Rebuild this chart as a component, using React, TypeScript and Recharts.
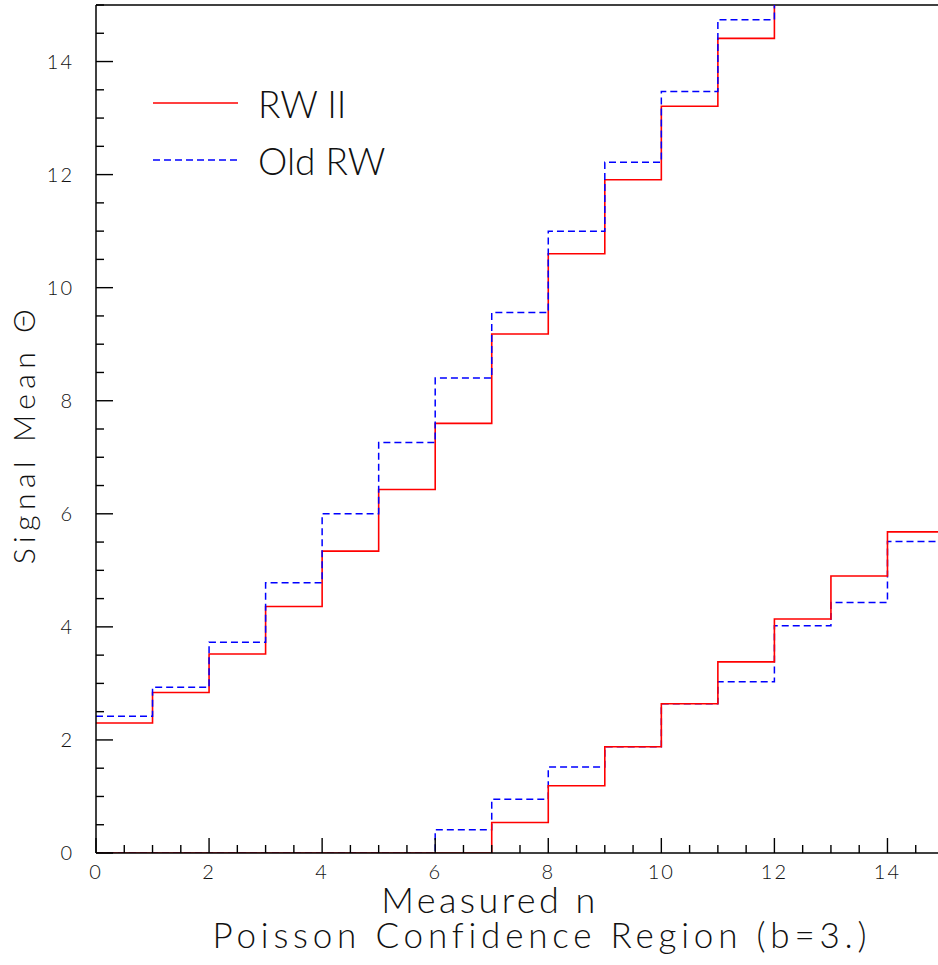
import { LineChart, Line, XAxis, YAxis, ReferenceLine, Legend } from 'recharts';

// measured n bins (each bin spans [n, n+1])
const BINS = [0, 1, 2, 3, 4, 5, 6, 7, 8, 9, 10, 11, 12, 13, 14];

// upper / lower edges of the confidence belt, b = 3
const RW2_UPPER = [2.3, 2.84, 3.52, 4.36, 5.34, 6.43, 7.6, 9.18, 10.6, 11.91, 13.21, 14.41, 15.6, 16.8, 18.0];
const OLD_UPPER = [2.42, 2.93, 3.73, 4.78, 6.0, 7.26, 8.4, 9.56, 11.0, 12.22, 13.47, 14.74, 15.9, 17.1, 18.3];
const RW2_LOWER = [0, 0, 0, 0, 0, 0, 0, 0.54, 1.19, 1.88, 2.64, 3.38, 4.14, 4.9, 5.68];
const OLD_LOWER = [0, 0, 0, 0, 0, 0, 0.41, 0.95, 1.52, 1.88, 2.64, 3.03, 4.02, 4.43, 5.51];

const TICKS = [0, 0.5, 1, 1.5, 2, 2.5, 3, 3.5, 4, 4.5, 5, 5.5, 6, 6.5, 7, 7.5, 8, 8.5, 9, 9.5, 10, 10.5, 11, 11.5, 12, 12.5, 13, 13.5, 14, 14.5, 15];
const MAJOR = [0, 2, 4, 6, 8, 10, 12, 14];

const LEGEND = [
  { label: 'RW II', color: '#ff0000', dash: undefined },
  { label: 'Old RW', color: '#0000ff', dash: '7 4' }
];

const FONT = 'Lato, "DejaVu Sans", sans-serif';
const RED = '#ff0000';
const BLUE = '#0000ff';

// stepAfter needs a closing point at the right edge of the last bin
const last = BINS.length - 1;
const data = [...BINS, BINS[last] + 1].map((n, i) => {
  const k = Math.min(i, last);
  return {
    n,
    rwUp: RW2_UPPER[k],
    oldUp: OLD_UPPER[k],
    rwLo: RW2_LOWER[k],
    oldLo: OLD_LOWER[k]
  };
});

function XTick({ x, y, payload }: any) {
  const major = MAJOR.includes(payload.value);
  return (
    <g>
      <line x1={x} x2={x} y1={y} y2={y - (major ? 15 : 8)} stroke="#000" strokeWidth={1.4} />
      {major && (
        <text x={x} y={y + 26} textAnchor="middle" fontFamily={FONT} fontWeight={300} fontSize={20} letterSpacing={2} fill="#111">
          {payload.value}
        </text>
      )}
    </g>
  );
}

function YTick({ x, y, payload }: any) {
  const major = MAJOR.includes(payload.value);
  return (
    <g>
      <line x1={x} x2={x + (major ? 17 : 8)} y1={y} y2={y} stroke="#000" strokeWidth={1.4} />
      {major && (
        <text x={x - 22} y={y + 7} textAnchor="end" fontFamily={FONT} fontWeight={300} fontSize={20} letterSpacing={2} fill="#111">
          {payload.value}
        </text>
      )}
    </g>
  );
}

function XTitle() {
  return (
    <g fontFamily={FONT} fontWeight={300} fill="#111">
      <text x={490} y={913} textAnchor="middle" fontSize={36} letterSpacing={3.4}>
        Measured n
      </text>
      <text x={542} y={948} textAnchor="middle" fontSize={35} letterSpacing={4.8}>
        Poisson Confidence Region (b=3.)
      </text>
    </g>
  );
}

function YTitle() {
  return (
    <text
      x={35}
      y={434}
      transform="rotate(-90, 35, 434)"
      textAnchor="middle"
      fontFamily={FONT}
      fontWeight={300}
      fontSize={30}
      letterSpacing={5.5}
      fill="#111"
    >
      Signal Mean Θ
    </text>
  );
}

function LegendBox() {
  return (
    <svg width={260} height={110}>
      {LEGEND.map((item, i) => (
        <g key={item.label}>
          <line x1={3} x2={88} y1={23 + i * 57} y2={23 + i * 57} stroke={item.color} strokeWidth={1.6} strokeDasharray={item.dash} />
          <text x={108} y={38 + i * 57} fontFamily={FONT} fontWeight={300} fontSize={37} fill="#111">
            {item.label}
          </text>
        </g>
      ))}
    </svg>
  );
}

export default function App() {
  return (
    <div style={{ position: 'fixed', left: 0, top: 0, width: 938, height: 965, overflow: 'hidden', background: '#fff' }}>
      <LineChart width={944} height={965} data={data} margin={{ top: 5, right: 0, bottom: 0, left: 0 }}>
        <XAxis
          dataKey="n"
          type="number"
          domain={[0, 15]}
          ticks={TICKS}
          interval={0}
          allowDataOverflow
          tickSize={0}
          tickMargin={0}
          tickLine={false}
          tick={<XTick />}
          axisLine={{ stroke: '#000', strokeWidth: 1.5 }}
          height={112}
          label={<XTitle />}
        />
        <YAxis
          type="number"
          domain={[0, 15]}
          ticks={TICKS}
          interval={0}
          allowDataOverflow
          tickSize={0}
          tickMargin={0}
          tickLine={false}
          tick={<YTick />}
          axisLine={{ stroke: '#000', strokeWidth: 1.5 }}
          width={96}
          label={<YTitle />}
        />
        <ReferenceLine y={15} stroke="#000" strokeWidth={1.5} />
        <Legend
          verticalAlign="middle"
          align="center"
          layout="horizontal"
          content={<LegendBox />}
          wrapperStyle={{ left: 150, top: 80, width: 260, height: 110 }}
        />
        <Line type="stepAfter" dataKey="rwUp" name="RW II" stroke={RED} strokeWidth={1.6} dot={false} isAnimationActive={false} />
        <Line type="stepAfter" dataKey="oldUp" name="Old RW" stroke={BLUE} strokeWidth={1.5} strokeDasharray="7 4" dot={false} isAnimationActive={false} />
        <Line type="stepAfter" dataKey="oldLo" name="Old RW lower" stroke={BLUE} strokeWidth={1.5} strokeDasharray="7 4" dot={false} isAnimationActive={false} />
        <Line type="stepAfter" dataKey="rwLo" name="RW II lower" stroke={RED} strokeWidth={1.6} dot={false} isAnimationActive={false} />
      </LineChart>
    </div>
  );
}
